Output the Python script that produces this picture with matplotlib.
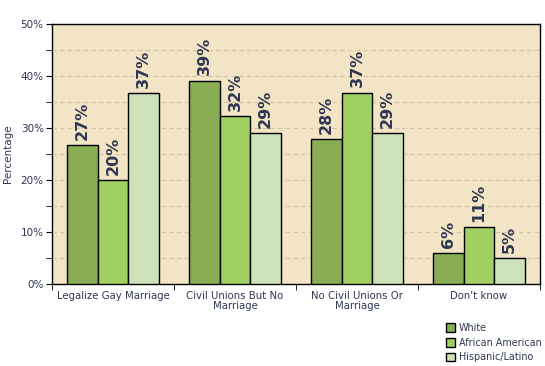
import matplotlib
matplotlib.use("Agg")
import matplotlib.pyplot as plt
import numpy as np
from matplotlib.patches import Patch

categories = ["Legalize Gay Marriage", "Civil Unions But No\nMarriage",
              "No Civil Unions Or\nMarriage", "Don't know"]
series_names = ["White", "African American", "Hispanic/Latino"]
white = [26.7, 39.1, 27.9, 6.0]
african_american = [20.0, 32.3, 36.8, 11.0]
hispanic = [36.7, 29.0, 29.0, 5.0]
value_labels = [["27%", "39%", "28%", "6%"],
                ["20%", "32%", "37%", "11%"],
                ["37%", "29%", "29%", "5%"]]
y_ticks = [0, 10, 20, 30, 40, 50]
y_tick_labels = ["0%", "10%", "20%", "30%", "40%", "50%"]

colors = ["#88AD52", "#A0CF62", "#CDE2B8"]
text_color = "#2E3652"
plt.rcParams['font.family'] = ['DejaVu Sans']

fig = plt.figure(figsize=(5.45, 3.66), dpi=100)
ax = fig.add_axes([52/545, (366-284)/366, (540-52)/545, (284-24)/366])
ax.set_facecolor("#F2E4C4")

x = np.arange(len(categories))
width = 0.25
for i, vals in enumerate([white, african_american, hispanic]):
    pos = x + (i - 1) * width
    ax.bar(pos, vals, width, color=colors[i], edgecolor="black", linewidth=1.0, zorder=3)
    for p, v, lab in zip(pos, vals, value_labels[i]):
        ax.text(p, v + 1.0, lab, rotation=90, ha="center", va="bottom",
                fontsize=11.5, fontweight="bold", color=text_color, zorder=4)

ax.set_xlim(-0.5, len(categories) - 0.5)
ax.set_ylim(0, 50)
ax.set_yticks(y_ticks)
ax.set_yticklabels(y_tick_labels, fontsize=7.5, color=text_color)
ax.set_yticks(np.arange(0, 51, 5), minor=True)
ax.tick_params(axis='y', which='both', direction='out', length=4, color='black', pad=2)
ax.grid(axis='y', which='both', linestyle=(0, (4, 3)), color="#D2C5A5", linewidth=0.8, zorder=1)

ax.set_xticks(x)
ax.set_xticklabels(categories, fontsize=7.3, color=text_color, linespacing=1.0)
ax.tick_params(axis='x', which='major', length=0, pad=5)
ax.set_xticks(np.arange(-0.5, len(categories), 1.0), minor=True)
ax.tick_params(axis='x', which='minor', direction='out', length=4, color='black')

for s in ax.spines.values():
    s.set_color("black")
    s.set_linewidth(1.0)

fig.text(8/545, 1 - 154/366, "Percentage", rotation=90, ha="center", va="center",
         fontsize=7.5, color=text_color)

handles = [Patch(facecolor=c, edgecolor="black", label=n) for c, n in zip(colors, series_names)]
fig.legend(handles=handles, loc="upper left", bbox_to_anchor=(439/545, 1 - 316/366),
           frameon=False, fontsize=6.9, labelcolor=text_color, handlelength=1.0,
           handleheight=1.0, handletextpad=0.35, labelspacing=0.5, borderpad=0.2)

fig.savefig("out.png", dpi=100)
